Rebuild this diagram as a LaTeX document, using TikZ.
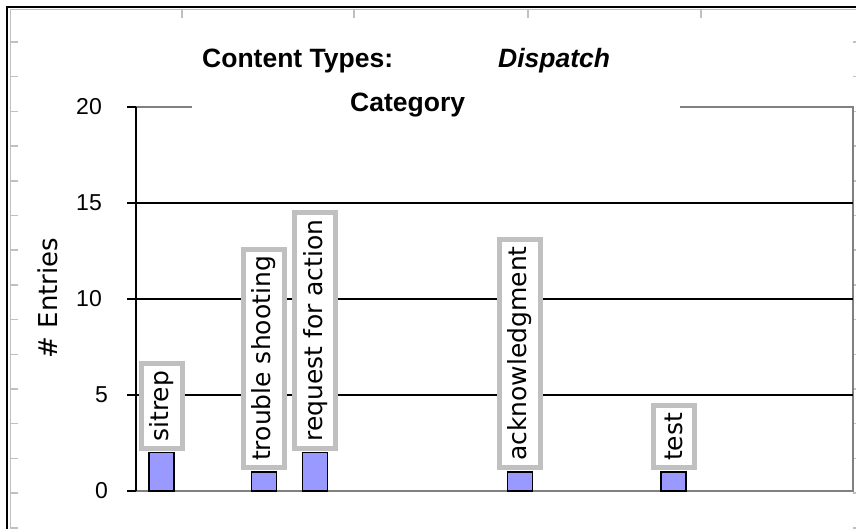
\documentclass[tikz,border=0pt]{standalone}
\usepackage{fontspec}
\setmainfont{Liberation Sans}
\newfontfamily\pixfont{DejaVu Sans}
\definecolor{barblue}{HTML}{9999FF}
\definecolor{lblgray}{HTML}{C0C0C0}
\definecolor{framegray}{HTML}{808080}

\begin{document}
\begin{tikzpicture}[x=1pt, y=-1pt,
  lbl/.style={draw=lblgray, line width=5pt, fill=white, rotate=90, anchor=west, inner xsep=7pt, inner ysep=0pt, minimum height=41pt, font=\pixfont\fontsize{25}{25}\selectfont},
  bar/.style={draw=black, line width=1.5pt, fill=barblue},
  grid/.style={line width=2pt, black},
  ruler/.style={lblgray, line width=1.5pt},
  title/.style={font=\fontsize{26.5}{30}\selectfont\bfseries, anchor=base west, inner sep=0pt}]
\useasboundingbox (0,0) rectangle (856,529);
% window frame with ruler marks
\draw[ruler, line width=1pt] (10,529) -- (10,10) -- (856,10);
\foreach \x in {182,354,528,701} \draw[ruler] (\x,10) -- (\x,18);
\foreach \i in {0,...,14} {
  \draw[ruler] (10,42+34.7*\i) -- (18,42+34.7*\i);
  \draw[ruler] (853,42+34.7*\i) -- (856,42+34.7*\i);
}
\draw[line width=2.5pt] (7,529) -- (7,7) -- (856,7);
% plot area
\draw[framegray, line width=2pt] (136,491) -- (853,491) -- (853,107) -- (680,107);
\draw[framegray, line width=2pt] (136,107) -- (192,107);
\foreach \y in {5,10,15} \draw[grid] (136,491-19.2*\y) -- (853,491-19.2*\y);
\draw[grid] (136,107) -- (136,491);
\foreach \v/\x in {0/108, 5/108, 10/102, 15/102, 20/102} {
  \draw[grid] (127,491-19.2*\v) -- (136,491-19.2*\v);
  \node[font=\fontsize{23}{23}\selectfont, anchor=east, inner sep=0pt] (tick\v) at (\x,491-19.2*\v) {\v};
}
% bars and their labels
\foreach \k/\v/\name/\txt in {0/2/sitrep/sitrep, 2/1/trouble/trouble shooting, 3/2/request/request for action, 7/1/ack/acknowledgment, 10/1/test/test} {
  \draw[bar] (136+51.2*\k+13,491) rectangle (136+51.2*\k+38,491-19.2*\v);
  \node[lbl] (\name) at (136+51.2*\k+25.5,491-19.2*\v-1.5) {\txt};
}
% titles
\node[title] (ctype) at (202,68) {Content Types:};
\node[title, font=\fontsize{26.5}{30}\selectfont\bfseries\itshape] (disp) at (498,68) {Dispatch};
\node[title] (cat) at (350,112) {Category};
\node[rotate=90, font=\pixfont\fontsize{26}{26}\selectfont] (ylab) at (48,298) {\# Entries};
\end{tikzpicture}
\end{document}
